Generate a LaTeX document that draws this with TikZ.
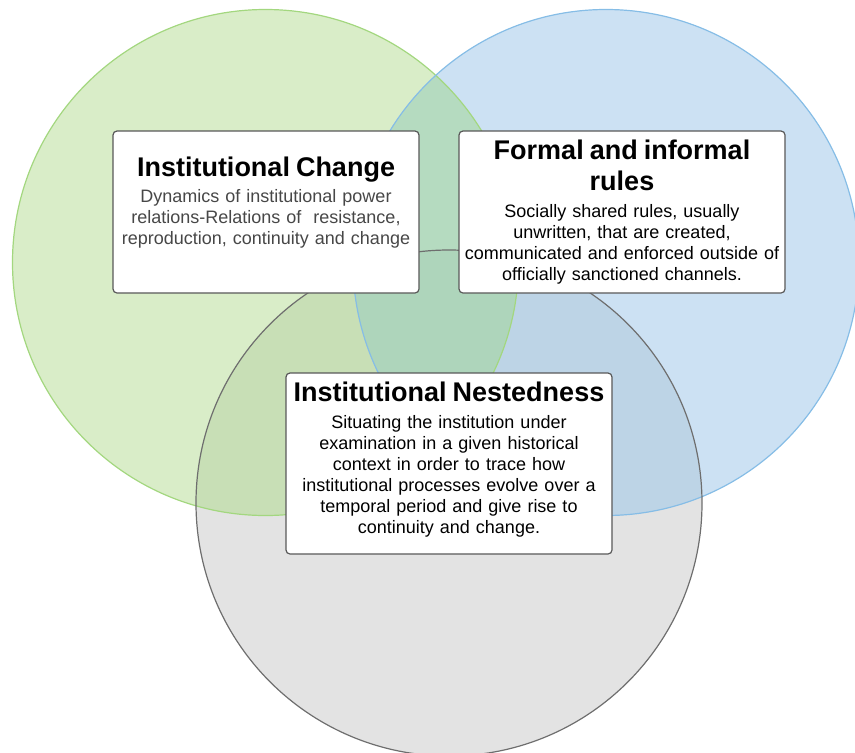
\documentclass[tikz,border=0pt]{standalone}
\usepackage{fontspec}
\setmainfont{Liberation Sans}
\usetikzlibrary{positioning}

% region colours
\definecolor{changefill}{HTML}{D9EDC8}
\definecolor{rulesfill}{HTML}{CCE1F3}
\definecolor{nestfill}{HTML}{E3E3E3}
\definecolor{changerules}{HTML}{B5DBC0}
\definecolor{changenest}{HTML}{C8DFB6}
\definecolor{rulesnest}{HTML}{BDD4E6}
\definecolor{allthree}{HTML}{AED5BB}
\definecolor{changeline}{HTML}{A3D77F}
\definecolor{rulesline}{HTML}{86BDE6}
\definecolor{nestline}{HTML}{6E6E6E}

\newcommand{\cardhead}{\fontsize{27}{31}\selectfont\bfseries}
\newcommand{\cardbody}{\fontsize{18}{21}\selectfont}

\tikzset{%
	card/.style    = {draw=black!65, line width=1.2pt, fill=white, rounded corners=4pt, minimum height=162pt},
	caption/.style = {inner sep=0pt, align=center, font=\cardbody},
	ring/.style    = {line width=1.2pt},
}

\begin{document}
\begin{tikzpicture}[x=1pt,y=-1pt]
	\useasboundingbox (0,0) rectangle (855,753);
	\coordinate (cchange) at (265.5,262.5);
	\coordinate (crules) at (606,262.5);
	\coordinate (cnest) at (449,503);
	\def\rad{253pt}
	
	% the three sets
	\fill[nestfill] (cnest) circle (\rad);
	\fill[changefill] (cchange) circle (\rad);
	\fill[rulesfill] (crules) circle (\rad);
	\begin{scope}
		\clip (cchange) circle (\rad);
		\fill[changerules] (crules) circle (\rad);
		\fill[changenest] (cnest) circle (\rad);
		\clip (crules) circle (\rad);
		\fill[allthree] (cnest) circle (\rad);
	\end{scope}
	\begin{scope}
		\clip (crules) circle (\rad);
		\clip (cnest) circle (\rad);
		\fill[rulesnest] (crules) circle (\rad);
		\clip (cchange) circle (\rad);
		\fill[allthree] (cnest) circle (\rad);
	\end{scope}
	\draw[ring, changeline] (cchange) circle (\rad);
	\draw[ring, rulesline] (crules) circle (\rad);
	\draw[ring, nestline] (cnest) circle (\rad);
	
	% text cards
	\node [card, minimum width=306pt] (changebox) at (266,212) {};
	\node [card, minimum width=326pt] (rulesbox) at (622,212) {};
	\node [card, minimum width=326pt, minimum height=181pt] (nestbox) at (449,463.5) {};
	
	\node [caption, text width=300pt, text=black!72, below=26pt of changebox.north] (changetext)
		{{\cardhead\color{black} Institutional Change\par}\vspace{5pt}
		Dynamics of institutional power\\
		relations-Relations of\ \ resistance,\\
		reproduction, continuity and change};
	\node [caption, text width=320pt, below=9pt of rulesbox.north] (rulestext)
		{{\cardhead Formal and informal\\ rules\par}\vspace{6pt}
		Socially shared rules, usually\\
		unwritten, that are created,\\
		communicated and enforced outside of\\
		officially sanctioned channels.};
	\node [caption, text width=320pt, below=9pt of nestbox.north] (nesttext)
		{{\cardhead Institutional Nestedness\par}\vspace{6pt}
		Situating the institution under\\
		examination in a given historical\\
		context in order to trace how\\
		institutional processes evolve over a\\
		temporal period and give rise to\\
		continuity and change.};
\end{tikzpicture}
\end{document}
